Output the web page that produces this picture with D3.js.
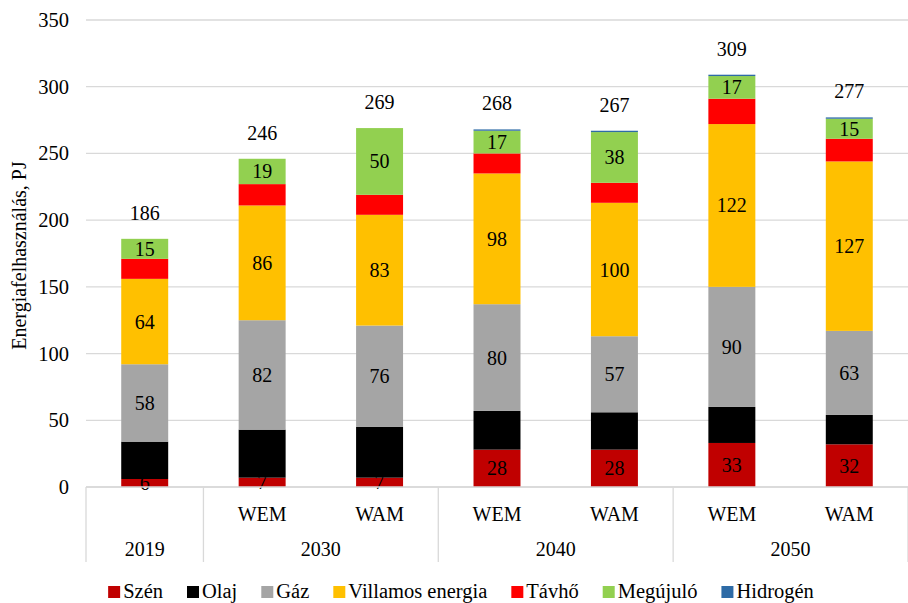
<!DOCTYPE html>
<html>
<head>
<meta charset="utf-8">
<script src="https://cdn.jsdelivr.net/npm/d3@7"></script>
<style>
  body { margin: 0; background: #fff; }
</style>
</head>
<body>
<div id="chart"></div>
<script>
// categories (two level axis)
const bars = ['2019', '2030 WEM', '2030 WAM', '2040 WEM', '2040 WAM', '2050 WEM', '2050 WAM'];
const subLabels = ['', 'WEM', 'WAM', 'WEM', 'WAM', 'WEM', 'WAM'];
const groups = [
  { label: '2019', from: 0, to: 1 },
  { label: '2030', from: 1, to: 3 },
  { label: '2040', from: 3, to: 5 },
  { label: '2050', from: 5, to: 7 }
];

// series, PJ
const seriesNames = ['Szén', 'Olaj', 'Gáz', 'Villamos energia', 'Távhő', 'Megújuló', 'Hidrogén'];
const seriesColors = ['#C00000', '#000000', '#A5A5A5', '#FFC000', '#FF0000', '#92D050', '#2E6BA6'];
const szen     = [6, 7, 7, 28, 28, 33, 32];
const olaj     = [28, 36, 38, 29, 28, 27, 22];
const gaz      = [58, 82, 76, 80, 57, 90, 63];
const villamos = [64, 86, 83, 98, 100, 122, 127];
const tavho    = [15, 16, 15, 15, 15, 19, 17];
const megujulo = [15, 19, 50, 17, 38, 17, 15];
const hidrogen = [0, 0, 0, 1, 1, 1, 1];
// which series get a value label
const labelled = ['Szén', 'Gáz', 'Villamos energia', 'Megújuló'];

const yTicks = [0, 50, 100, 150, 200, 250, 300, 350];

const FONT = 'Liberation Serif';
const W = 908, H = 603;
const margin = { top: 20, right: 0, bottom: 116, left: 86 };
const innerH = H - margin.top - margin.bottom;

const allSeries = [szen, olaj, gaz, villamos, tavho, megujulo, hidrogen];
const table = bars.map((b, i) => {
  const row = { cat: b };
  seriesNames.forEach((s, j) => { row[s] = allSeries[j][i]; });
  return row;
});

const svg = d3.select('#chart').append('svg')
  .attr('width', W).attr('height', H);

const x = d3.scaleBand()
  .domain(bars)
  .range([margin.left, W - margin.right])
  .paddingInner(0.6)
  .paddingOuter(0.3);

const y = d3.scaleLinear()
  .domain([0, 350])
  .range([margin.top + innerH, margin.top]);

// every text gets the serif font
function txt(sel, size) {
  return sel.attr('font-family', FONT).style('font-family', FONT)
    .style('font-size', size + 'px').attr('fill', '#000');
}

// gridlines
svg.append('g')
  .selectAll('line')
  .data(yTicks)
  .join('line')
  .attr('x1', margin.left).attr('x2', W - margin.right)
  .attr('y1', d => y(d)).attr('y2', d => y(d))
  .attr('stroke', '#d9d9d9').attr('stroke-width', 1.3);

// y axis labels
const yAxis = d3.axisLeft(y).tickValues(yTicks).tickSize(0).tickPadding(17);
const yg = svg.append('g')
  .attr('transform', `translate(${margin.left},0)`)
  .call(yAxis)
  .attr('font-family', FONT).attr('font-size', null);
yg.select('.domain').remove();
txt(yg.selectAll('text'), 20.5);

txt(svg.append('text'), 20)
  .attr('transform', `translate(26, ${y(175) + 2}) rotate(-90)`)
  .attr('text-anchor', 'middle')
  .text('Energiafelhasználás, PJ');

// stacked bars
const stack = d3.stack().keys(seriesNames);
const layers = stack(table);

const layerG = svg.append('g')
  .selectAll('g')
  .data(layers)
  .join('g')
  .attr('fill', (d, i) => seriesColors[i]);

layerG.selectAll('rect')
  .data(d => d)
  .join('rect')
  .attr('x', d => x(d.data.cat))
  .attr('width', x.bandwidth())
  .attr('y', d => y(d[1]))
  .attr('height', d => y(d[0]) - y(d[1]));

// segment labels
layers.filter(l => labelled.includes(l.key)).forEach(l => {
  txt(svg.append('g')
    .selectAll('text')
    .data(l)
    .join('text'), 20)
    .attr('x', d => x(d.data.cat) + x.bandwidth() / 2)
    .attr('y', d => (y(d[0]) + y(d[1])) / 2 + 7)
    .attr('text-anchor', 'middle')
    .text(d => d.data[l.key]);
});

// totals
const totals = table.map(r => d3.sum(seriesNames, s => r[s]));
txt(svg.append('g')
  .selectAll('text')
  .data(bars)
  .join('text'), 20)
  .attr('x', d => x(d) + x.bandwidth() / 2)
  .attr('y', (d, i) => y(totals[i]) - 19)
  .attr('text-anchor', 'middle')
  .text((d, i) => totals[i]);

// category axis
const step = x.step();
const x0 = margin.left;
const axisY = y(0);
svg.append('line')
  .attr('x1', x0).attr('x2', W - margin.right)
  .attr('y1', axisY).attr('y2', axisY)
  .attr('stroke', '#d9d9d9').attr('stroke-width', 1.3);

const seps = [0].concat(groups.map(g => g.to));
svg.append('g')
  .selectAll('line')
  .data(seps)
  .join('line')
  .attr('x1', d => x0 + d * step).attr('x2', d => x0 + d * step)
  .attr('y1', axisY).attr('y2', axisY + 75)
  .attr('stroke', '#d9d9d9').attr('stroke-width', 1.3);

txt(svg.append('g')
  .selectAll('text')
  .data(bars)
  .join('text'), 20)
  .attr('x', d => x(d) + x.bandwidth() / 2)
  .attr('y', axisY + 34)
  .attr('text-anchor', 'middle')
  .text((d, i) => subLabels[i]);

txt(svg.append('g')
  .selectAll('text')
  .data(groups)
  .join('text'), 20)
  .attr('x', d => x0 + (d.from + d.to) / 2 * step)
  .attr('y', axisY + 69)
  .attr('text-anchor', 'middle')
  .text(d => d.label);

// legend
const gap = 24;
const legend = svg.append('g');
let lx = 0;
seriesNames.forEach((s, i) => {
  const item = legend.append('g').attr('transform', `translate(${lx},0)`);
  item.append('rect')
    .attr('x', 0).attr('y', -12)
    .attr('width', 12).attr('height', 12)
    .attr('fill', seriesColors[i]);
  const t = txt(item.append('text'), 20.5)
    .attr('x', 15).attr('y', 0)
    .text(s);
  lx += 15 + t.node().getComputedTextLength() + gap;
});
lx -= gap;
legend.attr('transform', `translate(${461 - lx / 2}, 598)`);
</script>
</body>
</html>
